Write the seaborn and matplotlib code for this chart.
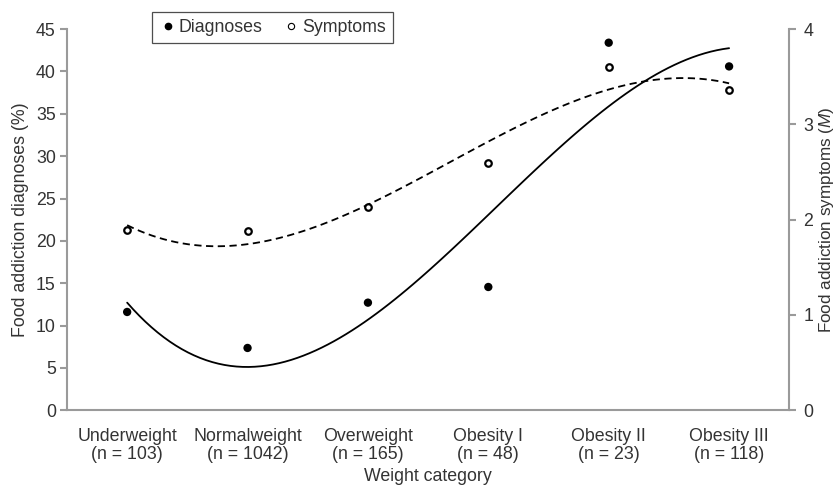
import numpy as np
import pandas as pd
import matplotlib
matplotlib.use("Agg")
import matplotlib.pyplot as plt
from matplotlib.lines import Line2D
import seaborn as sns

# data
categories = ["Underweight", "Normalweight", "Overweight", "Obesity I", "Obesity II", "Obesity III"]
group_n = [103, 1042, 165, 48, 23, 118]
diagnoses_pct = [11.6, 7.35, 12.7, 14.55, 43.4, 40.6]
symptoms_mean = [1.89, 1.88, 2.13, 2.60, 3.60, 3.36]

sns.set_theme(style="white")
plt.rcParams["font.family"] = ["Liberation Sans", "DejaVu Sans"]
plt.rcParams["mathtext.fontset"] = "custom"
plt.rcParams["mathtext.it"] = "Liberation Sans:italic"

df = pd.DataFrame({
    "pos": np.arange(len(categories)),
    "diagnoses": diagnoses_pct,
    "symptoms": symptoms_mean,
})

grey = "#9a9a9a"
txt = "#333333"
fs = 12.8

fig = plt.figure(figsize=(8.37, 4.86), dpi=100)
ax = fig.add_axes([0.080, 0.156, 0.863, 0.784])
ax2 = ax.twinx()

# diagnoses: filled dots + cubic trend (solid)
sns.regplot(data=df, x="pos", y="diagnoses", order=3, ci=None, ax=ax,
            scatter_kws=dict(s=36, color="black", edgecolors="none", alpha=1, zorder=3),
            line_kws=dict(color="black", lw=1.3))
# symptoms: open circles + cubic trend (dashed)
sns.regplot(data=df, x="pos", y="symptoms", order=3, ci=None, ax=ax2,
            scatter_kws=dict(s=22, facecolors="white", edgecolors="black", linewidths=1.6,
                             alpha=1, zorder=3),
            line_kws=dict(color="black", lw=1.3, ls=(0, (4, 2.5))))

ax.set_xlim(-0.5, 5.5)
ax.set_ylim(0, 45)
ax2.set_ylim(0, 4)
ax.set_yticks(np.arange(0, 46, 5))
ax2.set_yticks(np.arange(0, 5, 1))

ax.set_xticks(np.arange(len(categories)))
ax.set_xticklabels([f"{c}\n(n = {n})" for c, n in zip(categories, group_n)], linespacing=1.05)
ax.set_xticks(np.arange(-0.5, 6, 1), minor=True)
ax.tick_params(axis="x", which="major", length=0, pad=13, labelsize=fs, colors=txt)
ax.tick_params(axis="x", which="minor", length=5, width=1.5, color=grey, direction="out")
ax.tick_params(axis="y", length=5, width=1.5, color=grey, direction="out", labelsize=fs,
               labelcolor=txt, left=True, pad=3)
ax2.tick_params(axis="y", length=5, width=1.5, color=grey, direction="out", labelsize=fs,
                labelcolor=txt, right=True, pad=5)

for a in (ax, ax2):
    a.spines["top"].set_visible(False)
    for side in ("left", "right", "bottom"):
        a.spines[side].set_color(grey)
        a.spines[side].set_linewidth(1.5)
ax.spines["right"].set_visible(False)
ax2.spines["left"].set_visible(False)
ax2.spines["bottom"].set_visible(False)

ax.set_xlabel("Weight category", fontsize=fs, color=txt, labelpad=4)
ax.set_ylabel("Food addiction diagnoses (%)", fontsize=fs, color=txt, labelpad=5)
ax2.set_ylabel("Food addiction symptoms ($\\mathit{M}$)", fontsize=12.3, color=txt, labelpad=3)
ax.grid(False)
ax2.grid(False)

handles = [
    Line2D([], [], ls="none", marker="o", ms=4.5, mfc="black", mec="black"),
    Line2D([], [], ls="none", marker="o", ms=4.5, mfc="white", mec="black", mew=0.8),
]
leg = ax.legend(handles, ["Diagnoses", "Symptoms"], ncol=2, loc="upper left",
                bbox_to_anchor=(0.118, 1.045), frameon=True, fancybox=False,
                fontsize=fs, handletextpad=0.1, handlelength=1.0, columnspacing=1.1,
                borderpad=0.4, borderaxespad=0)
leg.get_frame().set_edgecolor("#222222")
leg.get_frame().set_linewidth(0.9)
for t in leg.get_texts():
    t.set_color(txt)

fig.savefig("out.png", dpi=100)
